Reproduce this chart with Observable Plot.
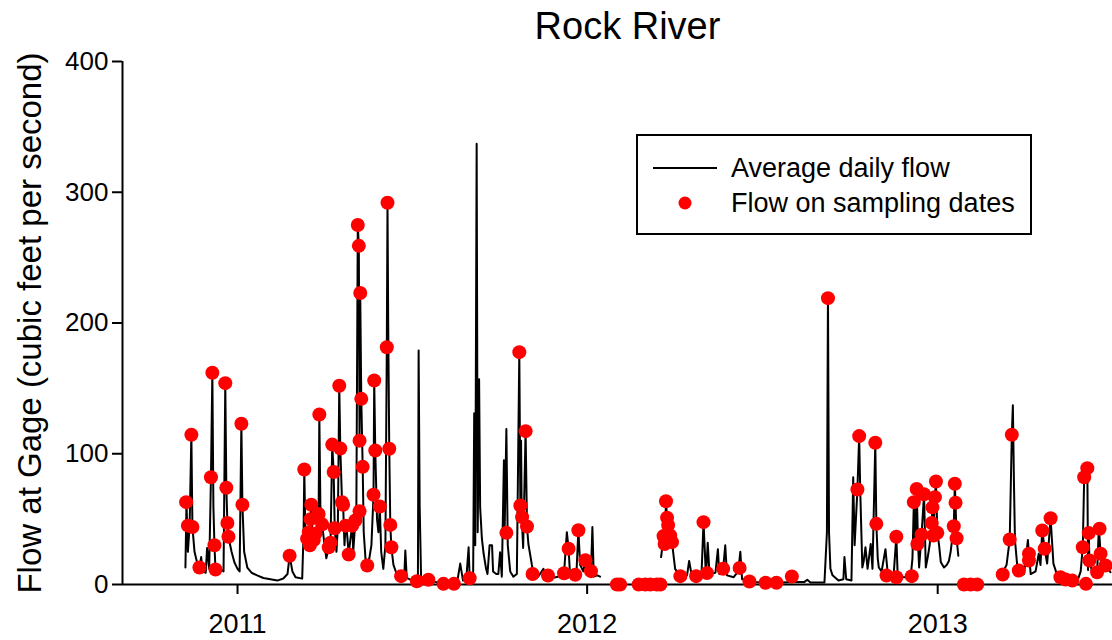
<!DOCTYPE html>
<html><head><meta charset="utf-8">
<script src="https://cdn.jsdelivr.net/npm/d3@7"></script>
<script src="https://cdn.jsdelivr.net/npm/@observablehq/plot@0.6"></script>
<style>body{margin:0;background:#fff;} #chart{width:1112px;height:640px;}</style>
</head><body><div id="chart"></div>
<script>
// Average daily flow (decimal year, cfs); null marks missing record
const flowYear = [2010.851,2010.854,2010.858,2010.863,2010.868,2010.871,2010.877,2010.886,2010.891,2010.896,2010.900,2010.909,2010.913,2010.919,2010.924,2010.928,2010.931,2010.934,2010.937,2010.943,2010.951,2010.960,2010.965,2010.968,2010.971,2010.974,2010.983,2010.991,2011.000,2011.006,2011.011,2011.014,2011.019,2011.028,2011.040,2011.056,2011.074,2011.094,2011.114,2011.131,2011.143,2011.149,2011.157,2011.166,2011.185,
2011.189,2011.191,2011.194,2011.199,2011.204,2011.207,2011.209,2011.211,2011.214,2011.218,2011.223,2011.229,2011.232,2011.234,2011.237,2011.242,2011.249,2011.254,2011.261,2011.266,2011.271,2011.275,2011.278,2011.283,2011.287,2011.291,2011.294,2011.299,2011.302,2011.306,2011.309,2011.313,2011.318,2011.323,2011.328,2011.331,2011.337,2011.340,2011.344,2011.347,2011.349,2011.351,2011.354,2011.358,2011.361,2011.366,2011.371,2011.377,2011.383,2011.389,2011.391,2011.394,2011.399,2011.403,2011.407,2011.411,2011.417,2011.423,2011.427,2011.429,2011.431,2011.434,2011.437,2011.440,2011.446,2011.454,2011.468,2011.477,2011.480,2011.484,2011.500,2011.516,2011.518,2011.521,2011.525,2011.542,2011.566,2011.589,2011.628,2011.637,2011.645,2011.654,2011.661,2011.664,2011.674,2011.677,2011.680,2011.684,2011.687,2011.691,2011.694,2011.699,2011.704,2011.711,2011.715,2011.721,2011.728,2011.731,2011.740,2011.746,2011.751,2011.756,2011.762,2011.764,2011.769,2011.773,2011.780,2011.789,2011.799,2011.806,2011.809,2011.811,2011.813,2011.817,2011.824,2011.828,2011.832,2011.842,2011.847,2011.860,2011.875,2011.880,2011.900,2011.917,2011.929,2011.934,2011.942,2011.947,2011.951,2011.963,2011.970,2011.975,2011.980,2011.989,2011.995,2012.000,2012.011,2012.015,2012.019,2012.029,2012.037,
2012.100,
2012.211,2012.218,2012.221,2012.225,2012.228,2012.231,2012.237,2012.242,2012.251,2012.266,2012.285,2012.291,2012.299,2012.326,2012.332,2012.339,2012.344,2012.349,2012.366,2012.373,2012.377,2012.388,2012.394,2012.399,2012.418,2012.431,2012.437,2012.442,2012.456,2012.480,2012.509,2012.551,2012.594,2012.620,2012.628,2012.637,2012.677,2012.684,2012.687,2012.690,2012.694,2012.700,2012.717,2012.731,2012.734,2012.739,2012.754,2012.759,2012.763,2012.771,2012.776,2012.779,2012.785,2012.789,2012.794,2012.800,2012.809,2012.814,2012.822,2012.825,2012.829,2012.832,2012.840,2012.851,2012.858,2012.874,2012.882,2012.886,2012.904,2012.923,2012.928,2012.932,2012.936,2012.940,2012.944,2012.947,2012.954,2012.961,2012.966,2012.971,2012.977,2012.983,2012.985,2012.988,2012.992,2012.995,2012.999,2013.004,2013.009,2013.018,2013.026,2013.032,2013.037,2013.046,2013.049,2013.051,2013.054,2013.059,
2013.120,
2013.189,2013.197,2013.206,2013.212,2013.215,2013.218,2013.221,2013.228,2013.232,2013.247,2013.258,2013.261,2013.266,2013.280,2013.289,2013.294,2013.299,2013.306,2013.313,2013.323,2013.331,2013.342,2013.361,2013.385,2013.400,2013.409,2013.415,2013.419,2013.428,2013.430,2013.432,2013.434,2013.442,2013.456,2013.461,2013.466,2013.471,2013.480,2013.494];
const flowCfs = [13,63,25,45,115,44,25,15,13,21,10,9,28,12,82,162,60,30,11.5,10,12,10,154,74,47,36.5,25,17,12,10,123,61,25,13,9,7,5,4,3,4.6,8,22,10,5.6,4.5,
40,88,40,35,40,30,50,61,40,34,39,45,54,130,60,46,30,20,28.5,32,107,86,43,25,45,152,104,63,61,30,45,40,23,35,45,25,49,60,275,259,110,223,142,90,40,20,14.5,20,30,68.6,156,102.5,50,40,59.6,25,12,30,181.5,292,200,103.8,45.6,28.5,15,9,6.4,6,26,5,3,2.5,179,60,6,3.6,2,1.5,1.5,16,3,3,28.5,5,8,131,30,337,40,157,59,35,23.5,12,8,30,30,10,8,8,24.7,6,95,40,119,30,10,6,8,177.7,60.4,110,51.5,28,117.3,44.4,31,15,8,6,12,6,5,6,8,9,40,27.3,8,7,12,42,15,10,19,9,10,44,6,7,6,
null,
21,36.7,31,63.7,51,45.7,37.5,32.4,12,6.4,7,18,6,6,47.7,6,32,8,9,27,8,12,30,7,5.6,10,25,4,3,2,1.3,1.5,2,2,3.6,1.5,1.5,40,222,40,12,7,3,4,21,4,3,82,30,72.7,113.5,72.4,13,18,28.5,12,31,12,108.4,46.4,20,13,10,27,7,6,36.7,6,5.6,6,20,63,30,73,31,13,38,69,13,20,30,47,59,37.5,66.8,78.8,39.5,30,17,13,15,18,25,44.6,77,62.5,35.4,22,
null,
10.7,15,34.4,114.5,137,80,34,13,10.7,8,34,23.5,8,10,23.5,15,41.3,27.3,16,50.7,16,7,3,2,3,10,28.5,82,92,11,40,18.4,9.4,9.4,44,23.5,10,14.5,9.4];

// Flow on sampling dates (decimal year, cfs)
const sampleYear = [2010.853,2010.858,2010.868,2010.871,2010.891,2010.924,2010.928,2010.934,2010.937,2010.965,2010.968,2010.971,2010.974,2011.011,2011.014,2011.149,2011.191,2011.199,2011.204,2011.207,2011.209,2011.211,2011.218,2011.223,2011.232,2011.234,2011.242,2011.261,2011.266,2011.271,2011.275,2011.278,2011.291,2011.294,2011.299,2011.302,2011.309,2011.318,2011.328,2011.337,2011.344,2011.347,2011.349,2011.349,2011.351,2011.354,2011.358,2011.371,2011.389,2011.391,2011.394,2011.407,2011.427,2011.429,2011.434,2011.437,2011.440,2011.468,2011.513,2011.546,2011.589,2011.619,2011.664,2011.769,2011.806,2011.809,2011.814,2011.824,2011.828,2011.844,2011.888,2011.934,2011.947,2011.966,2011.975,2011.995,2012.011,2012.085,2012.094,2012.147,2012.166,2012.180,2012.199,2012.209,2012.218,2012.221,2012.225,2012.228,2012.231,2012.237,2012.242,2012.266,2012.311,2012.332,2012.342,2012.388,2012.435,2012.463,2012.509,2012.540,2012.584,2012.687,2012.771,2012.776,2012.822,2012.825,2012.854,2012.882,2012.882,2012.926,2012.932,2012.940,2012.942,2012.954,2012.961,2012.983,2012.985,2012.988,2012.992,2012.995,2012.999,2013.046,2013.049,2013.051,2013.054,2013.075,2013.094,2013.113,2013.186,2013.206,2013.212,2013.232,2013.261,2013.261,2013.299,2013.306,2013.323,2013.351,2013.366,2013.385,2013.415,2013.419,2013.424,2013.428,2013.432,2013.434,2013.456,2013.463,2013.466,2013.480];
const sampleCfs = [63,45,114.5,44,13,82,162,30,11.5,154,74,47,36.5,123,61,22,88,35,40,30,50,61,34,39,54,130,46,28.5,32,107,86,43,152,104,63,61,45,23,45,49,275,259,56,110,223,142,90,14.5,68.6,156,102.5,59.6,181.5,292,103.8,45.6,28.5,6.4,2.5,3.6,0.5,0.5,4.8,39.5,177.7,60.4,51.5,117.3,44.4,8,6.9,8.6,27.3,7.4,41.5,18.6,10.2,0,0,0,0,0,0,0,37,31,63.7,51,45.5,37.5,32.4,6.4,6.4,47.7,8.7,12,12.7,2.3,1.3,1.3,6.1,219,72.7,113.5,108.4,46.4,6.9,36.5,5.6,6.4,63,73,31,38,69,47,59,37.5,66.8,78.8,39.5,44.6,77,62.5,35.4,0,0,0,7.6,34.4,114.5,10.7,23.5,18.4,41.3,27.3,50.7,5.6,3.8,3,28.5,82,0.5,89,39.3,18.4,9.4,42.6,23.5,14.5];

const yTicks = [0, 100, 200, 300, 400];
const xTickYears = [2011, 2012, 2013];
const xDomainYears = [2010.671, 2013.5];
const titleText = "Rock River";
const yLabelText = "Flow at Gage (cubic feet per second)";
const legendLabels = ["Average daily flow", "Flow on sampling dates"];

function toDate(y) {
  const y0 = Math.floor(y);
  const a = Date.UTC(y0, 0, 1), b = Date.UTC(y0 + 1, 0, 1);
  return new Date(a + (y - y0) * (b - a));
}

const flow = flowYear.map((t, i) => ({date: toDate(t), cfs: flowCfs[i]}));
const samples = sampleYear.map((t, i) => ({date: toDate(t), cfs: sampleCfs[i]}));
const font = "'Liberation Sans', Arial, sans-serif";

const plot = Plot.plot({
  width: 1112, height: 640,
  marginTop: 61, marginBottom: 56, marginLeft: 122, marginRight: 0,
  style: {fontFamily: font, fontSize: "26px", color: "#000", background: "#fff", overflow: "visible"},
  x: {type: "utc", domain: xDomainYears.map(toDate)},
  y: {domain: [0, 400]},
  marks: [
    Plot.axisY({ticks: yTicks, tickSize: 10, tickPadding: 4, strokeWidth: 2, label: null, fontSize: 26}),
    Plot.axisX({ticks: xTickYears.map(toDate), tickSize: 10, tickPadding: 19, strokeWidth: 2, label: null, fontSize: 27,
      tickFormat: d => String(d.getUTCFullYear())}),
    Plot.ruleY([0], {stroke: "black", strokeWidth: 2}),
    Plot.ruleX([toDate(xDomainYears[0])], {stroke: "black", strokeWidth: 2}),
    Plot.line(flow, {x: "date", y: "cfs", stroke: "black", strokeWidth: 2}),
    Plot.dot(samples, {x: "date", y: "cfs", r: 7, fill: "#ff0000", stroke: "none"}),
    Plot.text([titleText], {frameAnchor: "top", textAnchor: "middle", dx: 10, dy: -49, fontSize: 38}),
    Plot.text([yLabelText], {frameAnchor: "left", textAnchor: "middle", rotate: -90, dx: -92, fontSize: 33})
  ]
});
document.getElementById("chart").appendChild(plot);

// Legend box
const svg = d3.select(plot);
const lg = svg.append("g").attr("font-family", font).attr("font-size", 27).attr("text-anchor", "start");
lg.append("rect").attr("x", 637).attr("y", 135).attr("width", 394).attr("height", 99)
  .attr("fill", "white").attr("stroke", "black").attr("stroke-width", 2);
lg.append("line").attr("x1", 653).attr("x2", 717).attr("y1", 168).attr("y2", 168)
  .attr("stroke", "black").attr("stroke-width", 2);
lg.append("circle").attr("cx", 685).attr("cy", 203).attr("r", 6.5).attr("fill", "#ff0000");
lg.append("text").attr("x", 731).attr("y", 177).attr("text-anchor", "start").text(legendLabels[0]);
lg.append("text").attr("x", 731).attr("y", 212).attr("text-anchor", "start").text(legendLabels[1]);
</script>
</body></html>
